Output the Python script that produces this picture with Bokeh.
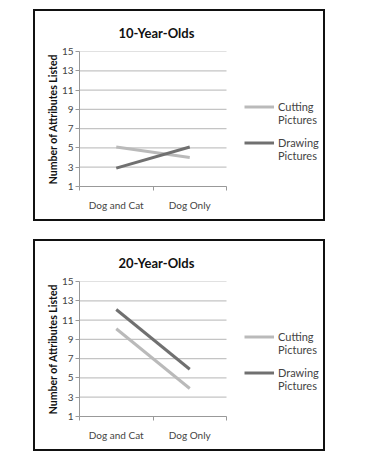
from bokeh.plotting import figure
from bokeh.layouts import column, row, Spacer
from bokeh.models import FixedTicker, Legend, LegendItem, Range1d
from bokeh.embed import file_html
from bokeh.resources import INLINE

categories = ["Dog and Cat", "Dog Only"]
series_names = ["Cutting\nPictures", "Drawing\nPictures"]
titles = ["10-Year-Olds", "20-Year-Olds"]
cutting_10 = [5.1, 4.0]
drawing_10 = [2.9, 5.1]
cutting_20 = [10.1, 3.9]
drawing_20 = [12.1, 5.9]
y_ticks = [1, 3, 5, 7, 9, 11, 13, 15]
y_label = "Number of Attributes Listed"

FONT = "Lato"
colors = ["#bababa", "#707070"]
grid_color = "#c4c4c4"

W, H = 288, 208
BL, BR, BT, BB = 44, 2, 40, 33
AXIS_PX = 147  # pixel width of the category axis
LEGEND_POS = [(165, 60), (165, 24)]


def make_panel(title, cutting, drawing):
    n = len(categories)
    frame_w = W - BL - BR
    x_max = n * frame_w / AXIS_PX
    p = figure(width=W, height=H, output_backend="svg", toolbar_location=None,
               x_range=Range1d(0, x_max), y_range=Range1d(y_ticks[0], y_ticks[-1]),
               min_border_left=BL, min_border_right=BR, min_border_top=BT, min_border_bottom=BB,
               title=title)
    p.title.align = "left"
    p.title.offset = 39
    p.title.standoff = 21
    p.title.text_font = FONT
    p.title.text_font_size = "13px"
    p.title.text_font_style = "bold"
    p.title.text_color = "#111"
    p.outline_line_color = None
    xs = [i + 0.5 for i in range(n)]

    p.xaxis.bounds = (0, n)
    p.xaxis.ticker = FixedTicker(ticks=xs, minor_ticks=list(range(n + 1)))
    p.xaxis.major_label_overrides = {x: c for x, c in zip(xs, categories)}
    p.xaxis.major_tick_out = 0
    p.xaxis.major_tick_in = 0
    p.xaxis.minor_tick_out = 4
    p.xaxis.minor_tick_in = 0
    p.xaxis.axis_line_color = "#999999"
    p.xaxis.minor_tick_line_color = "#999999"
    p.xaxis.major_label_text_font = FONT
    p.xaxis.major_label_text_font_size = "10px"
    p.xaxis.major_label_text_color = "#444444"
    p.xaxis.major_label_standoff = 8

    p.yaxis.ticker = FixedTicker(ticks=y_ticks)
    p.yaxis.axis_line_color = "#999999"
    p.yaxis.major_tick_line_color = "#999999"
    p.yaxis.major_tick_out = 4
    p.yaxis.major_tick_in = 0
    p.yaxis.minor_tick_line_color = None
    p.yaxis.major_label_text_font = FONT
    p.yaxis.major_label_text_font_size = "10px"
    p.yaxis.major_label_text_color = "#444444"
    p.yaxis.major_label_standoff = 2
    p.yaxis.axis_label = y_label
    p.yaxis.axis_label_text_font = FONT
    p.yaxis.axis_label_text_font_size = "10.5px"
    p.yaxis.axis_label_text_font_style = "bold"
    p.yaxis.axis_label_text_color = "#111"
    p.yaxis.axis_label_standoff = 0

    p.xgrid.grid_line_color = None
    p.ygrid.grid_line_color = None
    p.segment(x0=[0] * len(y_ticks), x1=[n] * len(y_ticks), y0=y_ticks, y1=y_ticks,
              line_color=grid_color, line_width=1.2)

    r1 = p.line(xs, cutting, line_color=colors[0], line_width=3)
    r2 = p.line(xs, drawing, line_color=colors[1], line_width=3)
    for r, name, pos in zip([r1, r2], series_names, LEGEND_POS):
        first, second = name.split("\n")
        legend = Legend(items=[LegendItem(label=first, renderers=[r]),
                               LegendItem(label=second, renderers=[])],
                        location=pos, border_line_color=None, background_fill_alpha=0,
                        glyph_width=30, glyph_height=13, label_standoff=4, spacing=0,
                        padding=0, margin=0, label_height=13,
                        label_text_font=FONT, label_text_font_size="11px",
                        label_text_color="#444444")
        p.add_layout(legend)
    return p


p1 = make_panel(titles[0], cutting_10, drawing_10)
p2 = make_panel(titles[1], cutting_20, drawing_20)

box1 = column(p1, styles={"border": "2px solid #111"})
box2 = column(p2, styles={"border": "2px solid #111"})

layout = column(Spacer(height=9),
                row(Spacer(width=33), box1),
                Spacer(height=18),
                row(Spacer(width=33), box2))

open("out.html", "w").write(file_html(layout, INLINE))
